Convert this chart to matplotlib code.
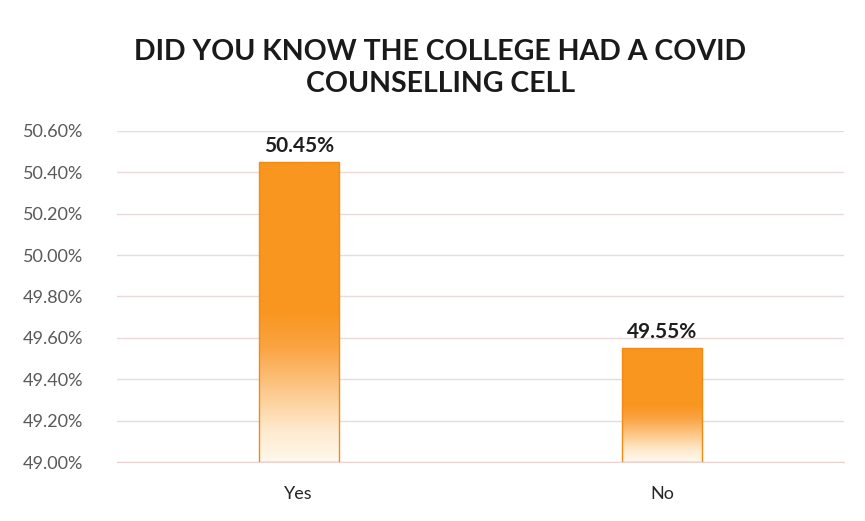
import numpy as np
import matplotlib
matplotlib.use("Agg")
import matplotlib.pyplot as plt
from matplotlib.colors import LinearSegmentedColormap
from matplotlib.patches import Rectangle
from matplotlib.ticker import FuncFormatter

plt.rcParams['font.family'] = ['Lato', 'DejaVu Sans']

categories = ["Yes", "No"]
values = [50.45, 49.55]
yticks = [49.00, 49.20, 49.40, 49.60, 49.80, 50.00, 50.20, 50.40, 50.60]
title = "DID YOU KNOW THE COLLEGE HAD A COVID\nCOUNSELLING CELL"

fig = plt.figure(figsize=(8.65, 5.21), dpi=100)
ax = fig.add_axes([0.135, 0.113, 0.841, 0.636])

# gradient: solid orange on top, fading to pale cream at the base
cmap = LinearSegmentedColormap.from_list(
    "fade", [(0.0, "#FFF8EC"), (0.1, "#FEEBD0"), (0.38, "#FAA443"), (0.5, "#F9961F"), (1.0, "#F9961F")])

ymin = 49.0
width = 0.22
x = np.arange(len(categories))
for xi, v in zip(x, values):
    grad = np.linspace(0, 1, 256).reshape(-1, 1)
    im = ax.imshow(grad, cmap=cmap, origin="lower", aspect="auto",
                   extent=[xi - width / 2, xi + width / 2, ymin, v], zorder=3)
    rect = Rectangle((xi - width / 2, ymin), width, v - ymin, facecolor="none",
                     edgecolor="#F38A14", linewidth=1.0, zorder=4)
    ax.add_patch(rect)
    im.set_clip_path(rect)
    ax.text(xi, v + 0.03, f"{v:.2f}%", ha="center", va="bottom",
            fontsize=15, fontweight="bold", color="#1F1F1F", zorder=5)

ax.set_xlim(-0.5, 1.5)
ax.set_ylim(49.0, 50.6)
ax.set_xticks(x)
ax.set_xticklabels(categories, fontsize=13, color="#262626")
ax.set_yticks(yticks)
ax.yaxis.set_major_formatter(FuncFormatter(lambda v, p: f"{v:.2f}%"))
ax.tick_params(axis="y", labelsize=13, labelcolor="#595959", length=0, pad=24)
ax.tick_params(axis="x", length=0, pad=17)
ax.grid(axis="y", color="#EADADA", linewidth=1.0, zorder=0)
ax.set_axisbelow(True)
for s in ["top", "right", "left"]:
    ax.spines[s].set_visible(False)
ax.spines["bottom"].set_color("#EAD2D2")

fig.text(0.509, 0.869, title, ha="center", va="center", fontsize=20.5,
         fontweight="bold", color="#1A1A1A", linespacing=1.3)

fig.savefig("out.png", dpi=100)
